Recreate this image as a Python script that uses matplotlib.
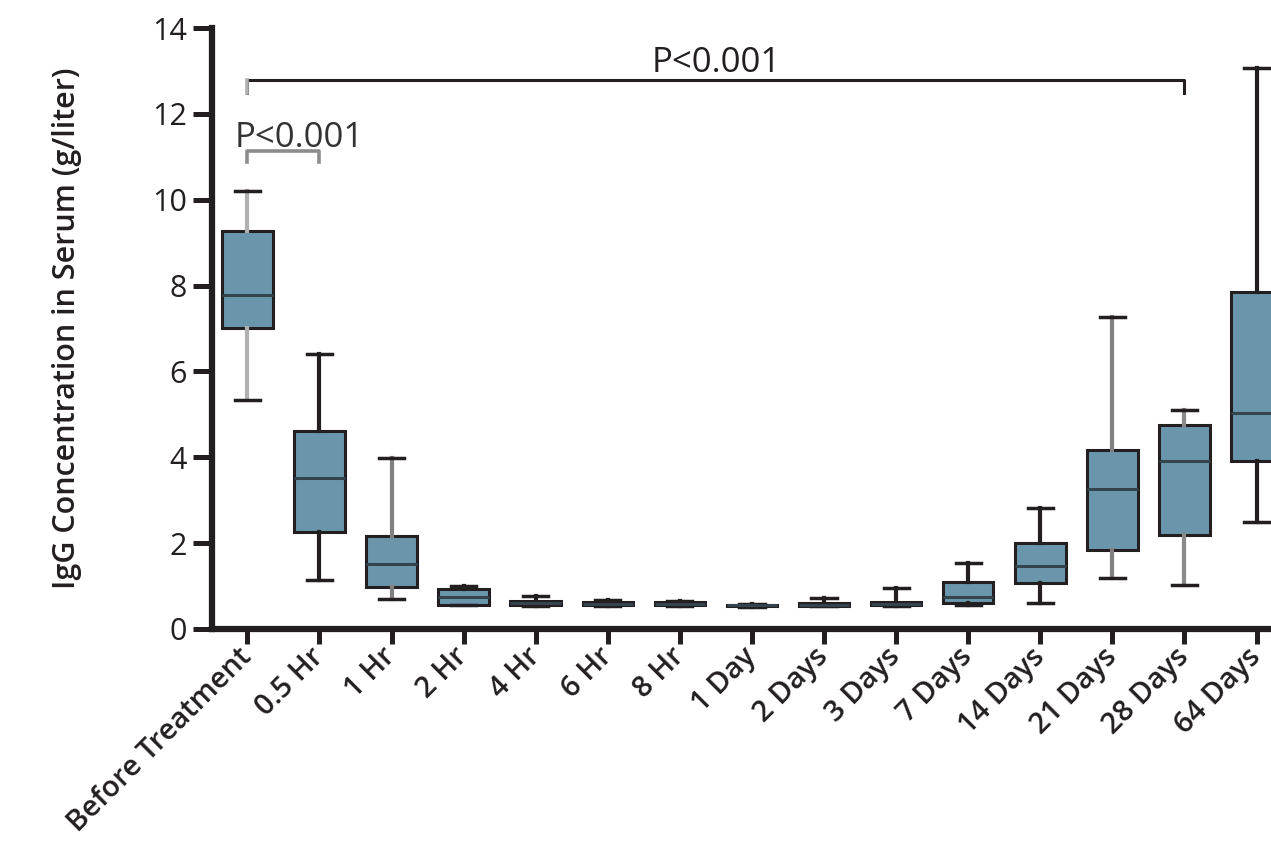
import matplotlib
matplotlib.use("Agg")
import matplotlib.pyplot as plt

# Datos (g/litro)
grupos = ['Before Treatment', '0.5 Hr', '1 Hr', '2 Hr', '4 Hr', '6 Hr', '8 Hr',
          '1 Day', '2 Days', '3 Days', '7 Days', '14 Days', '21 Days', '28 Days', '64 Days']
bigote_bajo = [5.33, 1.14, 0.69, 0.55, 0.53, 0.53, 0.53, 0.52, 0.53, 0.53, 0.56, 0.61, 1.18, 1.02, 2.50]
cuartil_1 = [7.02, 2.25, 0.97, 0.56, 0.55, 0.55, 0.55, 0.53, 0.54, 0.55, 0.60, 1.08, 1.84, 2.19, 3.92]
mediana = [7.78, 3.51, 1.51, 0.74, 0.60, 0.58, 0.58, 0.55, 0.57, 0.58, 0.75, 1.47, 3.25, 3.92, 5.04]
cuartil_3 = [9.28, 4.62, 2.17, 0.92, 0.65, 0.62, 0.62, 0.57, 0.60, 0.62, 1.10, 2.00, 4.17, 4.75, 7.84]
bigote_alto = [10.21, 6.41, 3.98, 1.01, 0.77, 0.68, 0.66, 0.58, 0.71, 0.95, 1.53, 2.81, 7.27, 5.10, 13.07]

# Comparaciones (desde, hasta, texto)
comparaciones = [(0, 13, 'P<0.001'), (0, 1, 'P<0.001')]

oscuro = '#231f20'
relleno = '#6a96ab'
color_bigote = ['#b0b0b0', oscuro, '#808080', oscuro, oscuro, oscuro, oscuro, oscuro,
                oscuro, oscuro, oscuro, oscuro, '#808080', '#8a8a8a', oscuro]

plt.rcParams['font.family'] = ['Open Sans', 'DejaVu Sans']

fig = plt.figure(figsize=(12.71, 8.42), dpi=100)
ax = fig.add_axes([0.1668, 0.253, 0.8332, 0.7137])

stats = []
for i in range(len(grupos)):
    stats.append({'whislo': bigote_bajo[i], 'q1': cuartil_1[i], 'med': mediana[i],
                  'q3': cuartil_3[i], 'whishi': bigote_alto[i], 'fliers': [], 'label': grupos[i]})

res = ax.bxp(stats, positions=range(len(grupos)), widths=0.7, patch_artist=True,
             showfliers=False,
             boxprops=dict(facecolor=relleno, edgecolor=oscuro, linewidth=2.2),
             medianprops=dict(color='#34444f', linewidth=2.2),
             capprops=dict(color=oscuro, linewidth=2.5),
             whiskerprops=dict(linewidth=3))
for i, c in enumerate(color_bigote):
    res['whiskers'][2 * i].set_color(c)
    res['whiskers'][2 * i + 1].set_color(c)

ax.set_xlim(-0.49, 14.2)
ax.set_ylim(0, 14)
ax.set_yticks(range(0, 15, 2))
ax.set_xticks(range(len(grupos)))
ax.set_xticklabels(grupos, rotation=45, ha='right', va='center', rotation_mode='anchor',
                   fontsize=21, fontweight='semibold')
ax.tick_params(axis='y', labelsize=22, length=14, width=3.6, color=oscuro, labelcolor=oscuro, pad=4)
ax.tick_params(axis='x', length=11, width=3.6, color=oscuro, labelcolor=oscuro, pad=6)
ax.set_ylabel('IgG Concentration in Serum (g/liter)', fontsize=22, fontweight='semibold',
              color=oscuro, va='center')
ax.yaxis.set_label_coords(-0.137, 0.5)

for lado in ['top', 'right']:
    ax.spines[lado].set_visible(False)
for lado in ['left', 'bottom']:
    ax.spines[lado].set_linewidth(4.5)
    ax.spines[lado].set_color(oscuro)

# Barras de significancia
x0, x1, txt = comparaciones[0]
ax.plot([x0, x0, x1, x1], [12.48, 12.79, 12.79, 12.48], color=oscuro, lw=2.2)
ax.plot([x0, x0], [12.48, 12.79], color='#b0b0b0', lw=2.6)
ax.text((x0 + x1) / 2, 12.97, txt, ha='center', va='baseline', fontsize=25, color=oscuro)

x0, x1, txt = comparaciones[1]
ax.plot([x0, x0, x1, x1], [10.88, 11.13, 11.13, 10.88], color='#8c8c8c', lw=2.6)
ax.text((x0 + x1) / 2 + 0.22, 11.23, txt, ha='center', va='baseline', fontsize=25, color='#333333')

fig.savefig('out.png', dpi=100)
